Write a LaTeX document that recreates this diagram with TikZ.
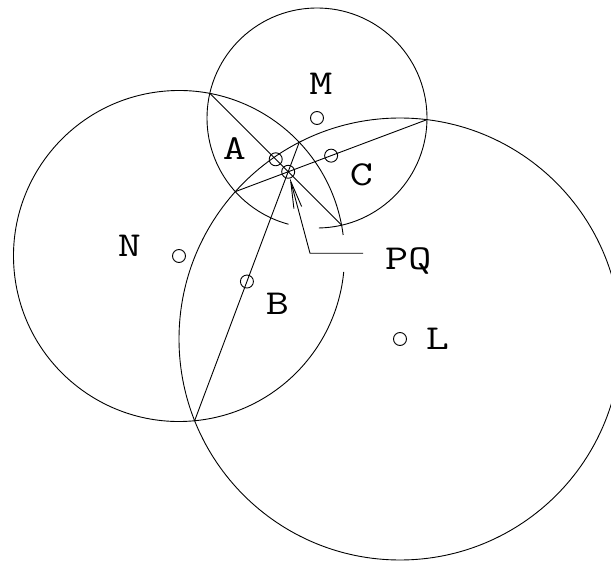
\documentclass[tikz,border=0pt]{standalone}
\usepackage{fontspec}
\usetikzlibrary{arrows.meta,intersections,calc}
\newcommand{\widelabel}[1]{\scalebox{1.28}[1]{#1}}
\tikzset{
  orbit/.style={line width=0.9pt},
  chord/.style={line width=0.9pt},
  centredot/.style={
    draw, circle, line width=0.9pt,
    inner sep=0pt, minimum size=13pt
  },
  tag/.style={
    anchor=base, inner sep=0pt,
    font=\ttfamily\fontsize{35}{35}\selectfont
  },
  leader/.style={line width=0.9pt, -{Straight Barb[length=27pt,width=8pt]}}
}

\begin{document}
\begin{tikzpicture}[x=1pt,y=1pt]
  \useasboundingbox (0,0) rectangle (611,563);
  \clip (0,0) rectangle (611,563);
  % centres and circles
  \coordinate (m) at (317,445);
  \coordinate (n) at (179,307);
  \coordinate (l) at (400,224);
  \path[name path=circM] (m) circle[radius=110];
  \path[name path=circN] (n) circle[radius=165.5];
  \path[name path=circL] (l) circle[radius=221];
  \path[name intersections={of=circM and circN,by={mn1,mn2}}];
  \path[name intersections={of=circM and circL,by={ml1,ml2}}];
  \path[name intersections={of=circN and circL,by={nl1,nl2}}];
  \draw[orbit] (m) ++(271:110) arc[start angle=271,end angle=615,radius=110];
  \draw[orbit] (n) ++(7.3:165.5) arc[start angle=7.3,end angle=354.5,radius=165.5];
  \draw[orbit] (l) circle[radius=221];
  % common chords
  \draw[chord,name path=chordMN] (mn1) -- (mn2);
  \draw[chord,name path=chordML] (ml1) -- (ml2);
  \draw[chord] (nl1) -- (nl2);
  \path[name intersections={of=chordMN and chordML,by=rc}];
  % small markers
  \node[centredot] (mdot) at (m) {};
  \node[centredot] (ndot) at (n) {};
  \node[centredot] (ldot) at (l) {};
  \node[centredot] (adot) at ($(mn1)!0.5!(mn2)$) {};
  \node[centredot] (cdot) at ($(ml1)!0.5!(ml2)$) {};
  \node[centredot] (bdot) at ($(nl1)!0.5!(nl2)$) {};
  \node[centredot] (pq) at (rc) {};
  % labels
  \node[tag] (mlbl) at (321,468) {\widelabel{M}};
  \node[tag] (albl) at (234.5,403) {\widelabel{A}};
  \node[tag] (clbl) at (361.5,377) {\widelabel{C}};
  \node[tag] (nlbl) at (129.5,306) {\widelabel{N}};
  \node[tag] (blbl) at (277.5,248) {\widelabel{B}};
  \node[tag] (pqlbl) at (408.3,293) {\widelabel{PQ}};
  \node[tag] (llbl) at (437.5,213) {\widelabel{L}};
  % leader to the radical centre
  \coordinate (pqtail) at (363,309.7);
  \coordinate (pqbend) at (310,309.7);
  \draw[leader] (pqtail) -- (pqbend) -- (pq);
\end{tikzpicture}
\end{document}
